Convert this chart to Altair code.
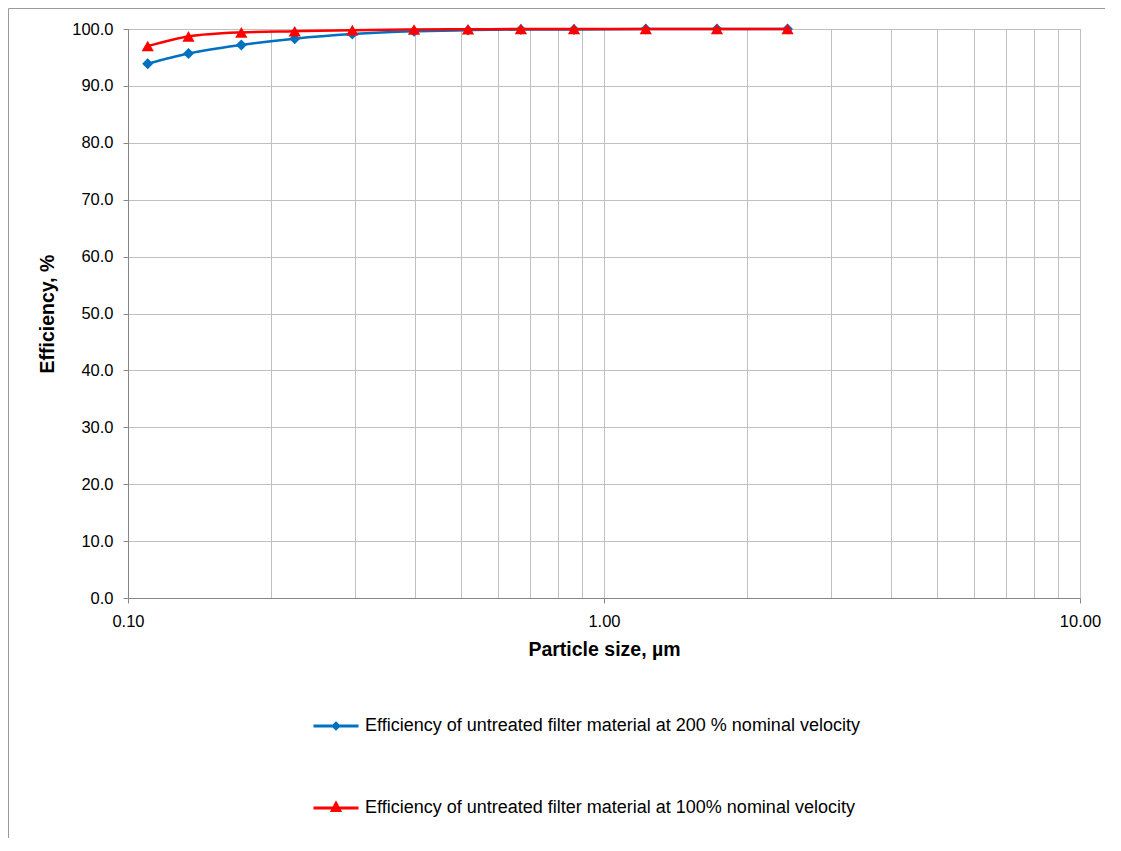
import altair as alt
import pandas as pd

# ---- data ----
particle_size = [0.11, 0.134, 0.173, 0.224, 0.296, 0.399, 0.518, 0.669, 0.865, 1.224, 1.727, 2.43]
eff_200 = [93.9, 95.7, 97.2, 98.3, 99.1, 99.6, 99.8, 99.9, 99.9, 100.0, 100.0, 100.0]
eff_100 = [97.0, 98.7, 99.4, 99.6, 99.8, 99.9, 99.95, 100.0, 100.0, 100.0, 100.0, 100.0]
series_names = [
    "Efficiency of untreated filter material at 200 % nominal velocity",
    "Efficiency of untreated filter material at 100% nominal velocity",
]
series_colors = ["#0070C0", "#FF0000"]
series_markers = ["diamond", "triangle-up"]
legend_symbols = [
    "M-1,0L1,0M0,-0.12L0.12,0L0,0.12L-0.12,0Z",
    "M-1,0L1,0M0,-0.2L0.16,0.11L-0.16,0.11Z",
]
x_ticks = [0.1, 0.2, 0.3, 0.4, 0.5, 0.6, 0.7, 0.8, 0.9,
           1, 2, 3, 4, 5, 6, 7, 8, 9, 10]
y_ticks = [0, 10, 20, 30, 40, 50, 60, 70, 80, 90, 100]

rows = []
for name, vals in zip(series_names, [eff_200, eff_100]):
    for s, v in zip(particle_size, vals):
        rows.append({"size": s, "eff": v, "series": name})
df = pd.DataFrame(rows)

FONT = "Liberation Sans"
is_decade = "abs(log(datum.value)/LN10 - round(log(datum.value)/LN10)) < 0.001"

x_enc = alt.X(
    "size:Q",
    scale=alt.Scale(type="log", domain=[0.1, 10], nice=False),
    axis=alt.Axis(
        values=x_ticks,
        labelExpr=f"{is_decade} ? format(datum.value, '.2f') : ''",
        labelOverlap=False,
        labelFlush=False,
        tickColor={"condition": {"test": is_decade, "value": "#868686"}, "value": "transparent"},
        tickSize=5,
        labelPadding=10,
        title="Particle size, µm",
        titleY=57,
        titleBaseline="alphabetic",
    ),
)
y_enc = alt.Y(
    "eff:Q",
    scale=alt.Scale(domain=[0, 100], nice=False),
    axis=alt.Axis(
        values=y_ticks,
        format=".1f",
        tickSize=5,
        labelPadding=10,
        title="Efficiency, %",
        titleX=-74.5,
        titleY=284.5,
        titleAngle=270,
        titleBaseline="alphabetic",
    ),
)

base = alt.Chart(df).encode(x=x_enc, y=y_enc)

layers = []
for name, col, mk in zip(series_names, series_colors, series_markers):
    sub = base.transform_filter(alt.datum.series == name)
    layers.append(sub.mark_line(color=col, strokeWidth=2.5, interpolate="monotone"))
    layers.append(sub.mark_point(color=col, filled=True, opacity=1, shape=mk,
                                 size=120 if mk == "diamond" else 150))

leg = alt.Legend(
    title=None, orient="none", legendX=184, legendY=673, direction="vertical",
    columns=1, symbolSize=2025, symbolStrokeWidth=3, labelFontSize=18,
    labelFont=FONT, labelLimit=900, labelOffset=5, rowPadding=49, padding=0,
)
legend_layer = base.transform_filter("false").mark_point(filled=True, opacity=1).encode(
    fill=alt.Fill("series:N", scale=alt.Scale(domain=series_names, range=series_colors), legend=leg),
    stroke=alt.Stroke("series:N", scale=alt.Scale(domain=series_names, range=series_colors), legend=leg),
    shape=alt.Shape("series:N", scale=alt.Scale(domain=series_names, range=legend_symbols), legend=leg),
)

frame_df = pd.DataFrame({"k": [0]})
frame_left = alt.Chart(frame_df).mark_rule(color="#9a9a9a", strokeWidth=1).encode(
    x=alt.value(-119.5), y=alt.value(-20.5), y2=alt.value(900))
frame_top = alt.Chart(frame_df).mark_rule(color="#9a9a9a", strokeWidth=1).encode(
    x=alt.value(-119.5), x2=alt.value(1100), y=alt.value(-20.5))

chart = alt.layer(frame_left, frame_top, *layers, legend_layer).properties(
    width=952,
    height=569,
    autosize=alt.AutoSizeParams(type="none"),
    padding={"left": 120, "top": 21, "right": 25, "bottom": 240},
    background="white",
).configure_view(
    stroke="#b3b3b3", strokeWidth=1
).configure_axis(
    labelFont=FONT, labelFontSize=16.5, labelColor="#000000",
    titleFont=FONT, titleFontSize=19.5, titleFontWeight="bold", titleColor="#000000",
    gridColor="#c0c0c0", gridWidth=1, domainColor="#868686", domainWidth=1,
)

chart.save("out.html", embed_options={"renderer": "svg", "actions": False})
